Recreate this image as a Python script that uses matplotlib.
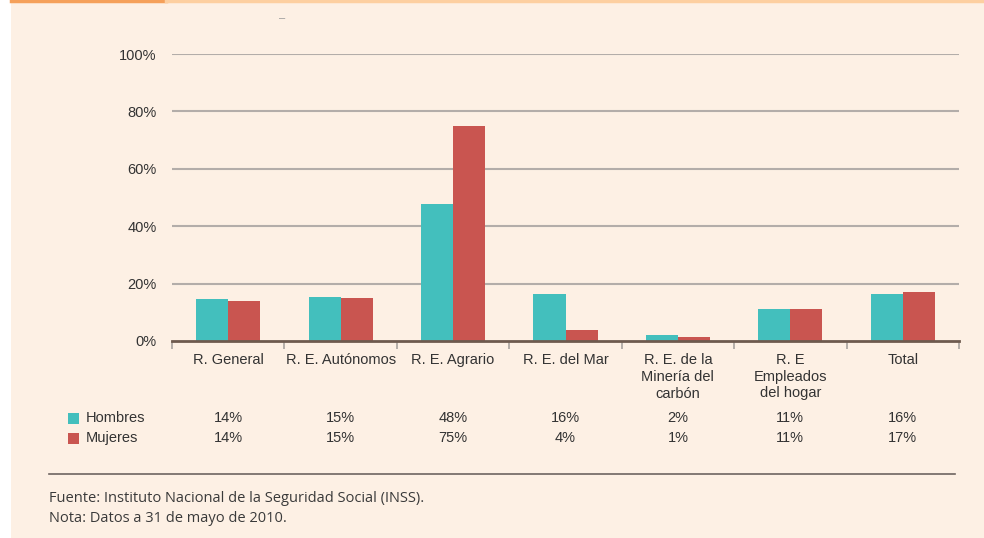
import numpy as np
import matplotlib
matplotlib.use("Agg")
import matplotlib.pyplot as plt
from matplotlib.patches import Rectangle

plt.rcParams['font.family'] = ['Liberation Sans', 'DejaVu Sans']

categories = ["R. General", "R. E. Autónomos", "R. E. Agrario", "R. E. del Mar",
              "R. E. de la\nMinería del\ncarbón", "R. E\nEmpleados\ndel hogar", "Total"]
hombres = [14.6, 15.3, 47.7, 16.4, 2.1, 11.1, 16.3]
mujeres = [13.9, 15.0, 74.9, 3.8, 1.4, 11.1, 17.0]
hombres_lbl = ["14%", "15%", "48%", "16%", "2%", "11%", "16%"]
mujeres_lbl = ["14%", "15%", "75%", "4%", "1%", "11%", "17%"]
yticks = [0, 20, 40, 60, 80, 100]

teal = "#43BFBD"
red = "#C95550"
bg = "#FDF0E4"
txt = "#333333"

fig = plt.figure(figsize=(9.84, 5.38), dpi=100)
fig.patch.set_facecolor("white")
# cream panel and top rule
fig.add_artist(Rectangle((11/984, 0), 1, 1, transform=fig.transFigure,
                         facecolor=bg, edgecolor="none", zorder=-10))
fig.add_artist(plt.Line2D([11/984, 166/984], [1 - 1/538, 1 - 1/538],
                          transform=fig.transFigure, color="#F5A05A", lw=2.5))
fig.add_artist(plt.Line2D([166/984, 1], [1 - 1/538, 1 - 1/538],
                          transform=fig.transFigure, color="#FDCFA0", lw=2.5))

W, H = 984, 538
ax = fig.add_axes([172/W, 1 - 341/H, (959 - 172)/W, (341 - 54)/H])
ax.set_facecolor(bg)
ax.patch.set_alpha(0)

x = np.arange(len(categories))
bw = 0.285
ax.bar(x - bw/2, hombres, bw, color=teal, zorder=3)
ax.bar(x + bw/2, mujeres, bw, color=red, zorder=3)

ax.set_xlim(-0.5, len(categories) - 0.5)
ax.set_ylim(0, 100)
ax.set_yticks(yticks)
ax.set_yticklabels([f"{t}%" for t in yticks], fontsize=10.5, color=txt)
for t in yticks[1:]:
    ax.axhline(t, color="#B3ADA9", lw=1.5, zorder=1)
ax.tick_params(axis='y', length=0, pad=11)

# x axis: ticks at boundaries
ax.set_xticks(np.arange(-0.5, len(categories)), minor=False)
ax.set_xticklabels([])
ax.tick_params(axis='x', length=6, width=1.2, color="#A8A29E", direction='out')
for s in ['top', 'right', 'left']:
    ax.spines[s].set_visible(False)
ax.spines['bottom'].set_color("#6E5A4E")
ax.spines['bottom'].set_linewidth(2)
ax.spines['bottom'].set_zorder(4)

for i, c in enumerate(categories):
    ax.text(i, 1 - (353 - 54)/(341 - 54), c, transform=ax.get_xaxis_transform(),
            ha='center', va='top', fontsize=10.5, color=txt, linespacing=1.25)

# data table
for i in range(len(categories)):
    xf = (172 + (i + 0.5) * (959 - 172) / len(categories)) / W
    fig.text(xf, 1 - 418/H, hombres_lbl[i], ha='center', va='center', fontsize=10.5, color=txt)
    fig.text(xf, 1 - 438/H, mujeres_lbl[i], ha='center', va='center', fontsize=10.5, color=txt)

fig.add_artist(Rectangle((68/W, 1 - 424/H), 11/W, 11/H, transform=fig.transFigure,
                         facecolor=teal, edgecolor="none"))
fig.add_artist(Rectangle((68/W, 1 - 444/H), 11/W, 11/H, transform=fig.transFigure,
                         facecolor=red, edgecolor="none"))
fig.text(86/W, 1 - 418/H, "Hombres", ha='left', va='center', fontsize=10.5, color=txt)
fig.text(86/W, 1 - 438/H, "Mujeres", ha='left', va='center', fontsize=10.5, color=txt)

# separator and notes
fig.add_artist(plt.Line2D([49/W, 955/W], [1 - 474/H, 1 - 474/H],
                          transform=fig.transFigure, color="#6E6460", lw=1.2))
fig.text(49/W, 1 - 499/H, "Fuente: Instituto Nacional de la Seguridad Social (INSS).",
         ha='left', va='center', fontsize=10.5, color="#3a3a3a", family=['Open Sans', 'DejaVu Sans'])
fig.text(49/W, 1 - 518/H, "Nota: Datos a 31 de mayo de 2010.",
         ha='left', va='center', fontsize=10.5, color="#3a3a3a", family=['Open Sans', 'DejaVu Sans'])
fig.text(282/W, 1 - 18/H, "–", ha='center', va='center', fontsize=8, color="#999999")

fig.savefig("out.png", dpi=100, facecolor=fig.get_facecolor())
